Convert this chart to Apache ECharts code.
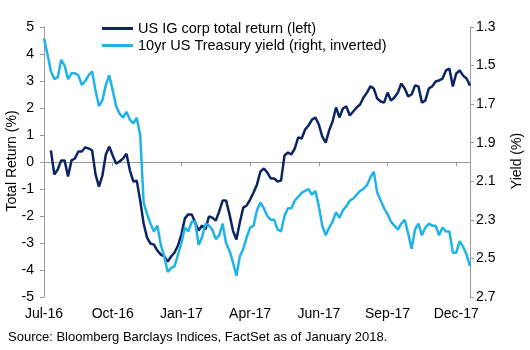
<!DOCTYPE html>
<html>
<head>
<meta charset="utf-8">
<script src="https://cdn.jsdelivr.net/npm/echarts@6/dist/echarts.min.js"></script>
<style>
html,body{margin:0;padding:0;background:#fff;}
#chart{width:530px;height:350px;}
</style>
</head>
<body>
<div id="chart"></div>
<script>
// tick labels on the date axis (one every 20 points)
let xLabels = ['Jul-16', 'Oct-16', 'Jan-17', 'Apr-17', 'Jun-17', 'Sep-17', 'Dec-17'];

// US IG corp total return, % (left axis)
let igReturn = [null, null, 0.43, -0.46, -0.28, 0.06, 0.06, -0.54, 0.06, 0.13,
	0.39, 0.39, 0.54, 0.50, 0.43, -0.46, -0.91, -0.50, 0.28, 0.57,
	0.24, -0.06, 0.02, 0.13, 0.31, -0.31, -0.72, -0.69, -1.43, -2.28,
	-2.80, -3.02, -3.06, -3.28, -3.43, -3.50, -3.69, -3.50, -3.35, -3.09,
	-2.69, -2.09, -1.94, -1.94, -2.24, -2.54, -2.35, -2.50, -2.02, -2.06,
	-2.17, -1.83, -1.43, -1.43, -1.94, -2.54, -2.87, -2.24, -1.69, -1.61,
	-1.39, -1.13, -0.83, -0.35, -0.24, -0.39, -0.61, -0.61, -0.72, -0.69,
	0.24, 0.35, 0.28, 0.50, 0.91, 0.87, 1.20, 1.35, 1.57, 1.65,
	1.39, 0.94, 0.72, 1.17, 1.50, 2.02, 1.65, 1.98, 2.06, 1.72,
	1.87, 2.02, 2.13, 2.39, 2.57, 2.80, 2.72, 2.35, 2.24, 2.20,
	2.57, 2.28, 2.39, 2.57, 2.91, 2.72, 2.43, 2.50, 2.83, 2.80,
	2.20, 2.28, 2.72, 2.80, 2.98, 3.02, 3.09, 3.39, 3.46, 2.80,
	3.28, 3.39, 3.20, 3.09, 2.83];

// 10yr US Treasury yield, % (right axis, inverted)
let tsyYield = [1.36, 1.44, 1.53, 1.57, 1.56, 1.47, 1.50, 1.57, 1.54, 1.54,
	1.55, 1.60, 1.58, 1.55, 1.53, 1.63, 1.71, 1.68, 1.60, 1.55,
	1.63, 1.71, 1.75, 1.77, 1.74, 1.78, 1.80, 1.77, 1.86, 2.21,
	2.27, 2.32, 2.36, 2.33, 2.43, 2.49, 2.57, 2.55, 2.54, 2.48,
	2.42, 2.34, 2.36, 2.31, 2.31, 2.43, 2.39, 2.32, 2.33, 2.35,
	2.40, 2.38, 2.32, 2.42, 2.46, 2.52, 2.59, 2.49, 2.45, 2.39,
	2.34, 2.33, 2.25, 2.21, 2.24, 2.28, 2.30, 2.30, 2.35, 2.36,
	2.28, 2.24, 2.24, 2.20, 2.18, 2.16, 2.15, 2.14, 2.17, 2.15,
	2.23, 2.33, 2.38, 2.34, 2.31, 2.26, 2.29, 2.25, 2.23, 2.20,
	2.19, 2.17, 2.15, 2.14, 2.12, 2.08, 2.05, 2.16, 2.20, 2.24,
	2.27, 2.31, 2.33, 2.35, 2.32, 2.30, 2.37, 2.45, 2.35, 2.32,
	2.38, 2.34, 2.32, 2.33, 2.33, 2.38, 2.34, 2.36, 2.36, 2.47,
	2.47, 2.41, 2.44, 2.48, 2.54];

let cats = tsyYield.map(function(d, i){ return String(i); });

let font = 'Liberation Sans, Arial, sans-serif';
let axisGrey = '#9a9a9a';
let navy = '#0b2462';
let sky = '#1fb3e8';

var chart = echarts.init(document.getElementById('chart'));
option = {
	animation: false,
	backgroundColor: '#fff',
	textStyle: { fontFamily: font },
	grid: { left: 44, right: 60, top: 27, bottom: 53, containLabel: false, outerBoundsMode: 'none' },
	legend: {
		orient: 'vertical',
		left: 97,
		top: 16,
		icon: 'rect',
		itemWidth: 31,
		itemHeight: 3,
		itemGap: 2,
		textStyle: { fontFamily: font, fontSize: 14.5, color: '#000' },
		data: ['US IG corp total return (left)', '10yr US Treasury yield (right, inverted)']
	},
	xAxis: [
		{
			type: 'category',
			data: cats,
			boundaryGap: false,
			position: 'bottom',
			axisLine: { show: false, onZero: false },
			axisTick: { show: false },
			axisLabel: {
				interval: 19,
				margin: 10,
				fontFamily: font,
				fontSize: 14,
				color: '#000',
				formatter: function(v, i){ return xLabels[i / 20] || ''; }
			},
			splitLine: { show: false }
		},
		{
			type: 'category',
			data: cats,
			boundaryGap: false,
			position: 'top',
			axisLine: { onZero: true, onZeroAxisIndex: 0, lineStyle: { color: axisGrey, width: 1 } },
			axisTick: { interval: 19, inside: true, length: 4, lineStyle: { color: axisGrey } },
			axisLabel: { show: false },
			splitLine: { show: false }
		}
	],
	yAxis: [
		{
			type: 'value',
			min: -5,
			max: 5,
			interval: 1,
			axisLine: { show: true, lineStyle: { color: axisGrey } },
			axisTick: { show: true, length: 4, lineStyle: { color: axisGrey } },
			axisLabel: { margin: 10, fontFamily: font, fontSize: 14, color: '#000' },
			splitLine: { show: false }
		},
		{
			type: 'value',
			min: 1.3,
			max: 2.7,
			interval: 0.2,
			inverse: true,
			position: 'right',
			axisLine: { show: true, lineStyle: { color: axisGrey } },
			axisTick: { show: true, length: 4, lineStyle: { color: axisGrey } },
			axisLabel: { margin: 6, fontFamily: font, fontSize: 14, color: '#000',
				formatter: function(v){ return v.toFixed(1); } },
			splitLine: { show: false }
		}
	],
	series: [
		{
			name: 'US IG corp total return (left)',
			type: 'line',
			xAxisIndex: 0,
			yAxisIndex: 0,
			data: igReturn,
			symbol: 'none',
			color: navy,
			lineStyle: { width: 2.5, color: navy }
		},
		{
			name: '10yr US Treasury yield (right, inverted)',
			type: 'line',
			xAxisIndex: 0,
			yAxisIndex: 1,
			data: tsyYield,
			symbol: 'none',
			color: sky,
			lineStyle: { width: 2.5, color: sky }
		}
	],
	graphic: [
		{
			// left axis title
			type: 'text',
			x: 12,
			y: 161,
			rotation: Math.PI / 2,
			style: { text: 'Total Return (%)', font: '14px ' + font, fill: '#000', align: 'center', verticalAlign: 'middle' }
		},
		{
			// right axis title
			type: 'text',
			x: 517,
			y: 161,
			rotation: Math.PI / 2,
			style: { text: 'Yield (%)', font: '14px ' + font, fill: '#000', align: 'center', verticalAlign: 'middle' }
		},
		{
			type: 'text',
			left: 8,
			top: 331,
			style: {
				text: 'Source: Bloomberg Barclays Indices, FactSet as of January 2018.',
				font: '13px ' + font,
				fill: '#000'
			}
		}
	]
};
chart.setOption(option);
</script>
</body>
</html>
